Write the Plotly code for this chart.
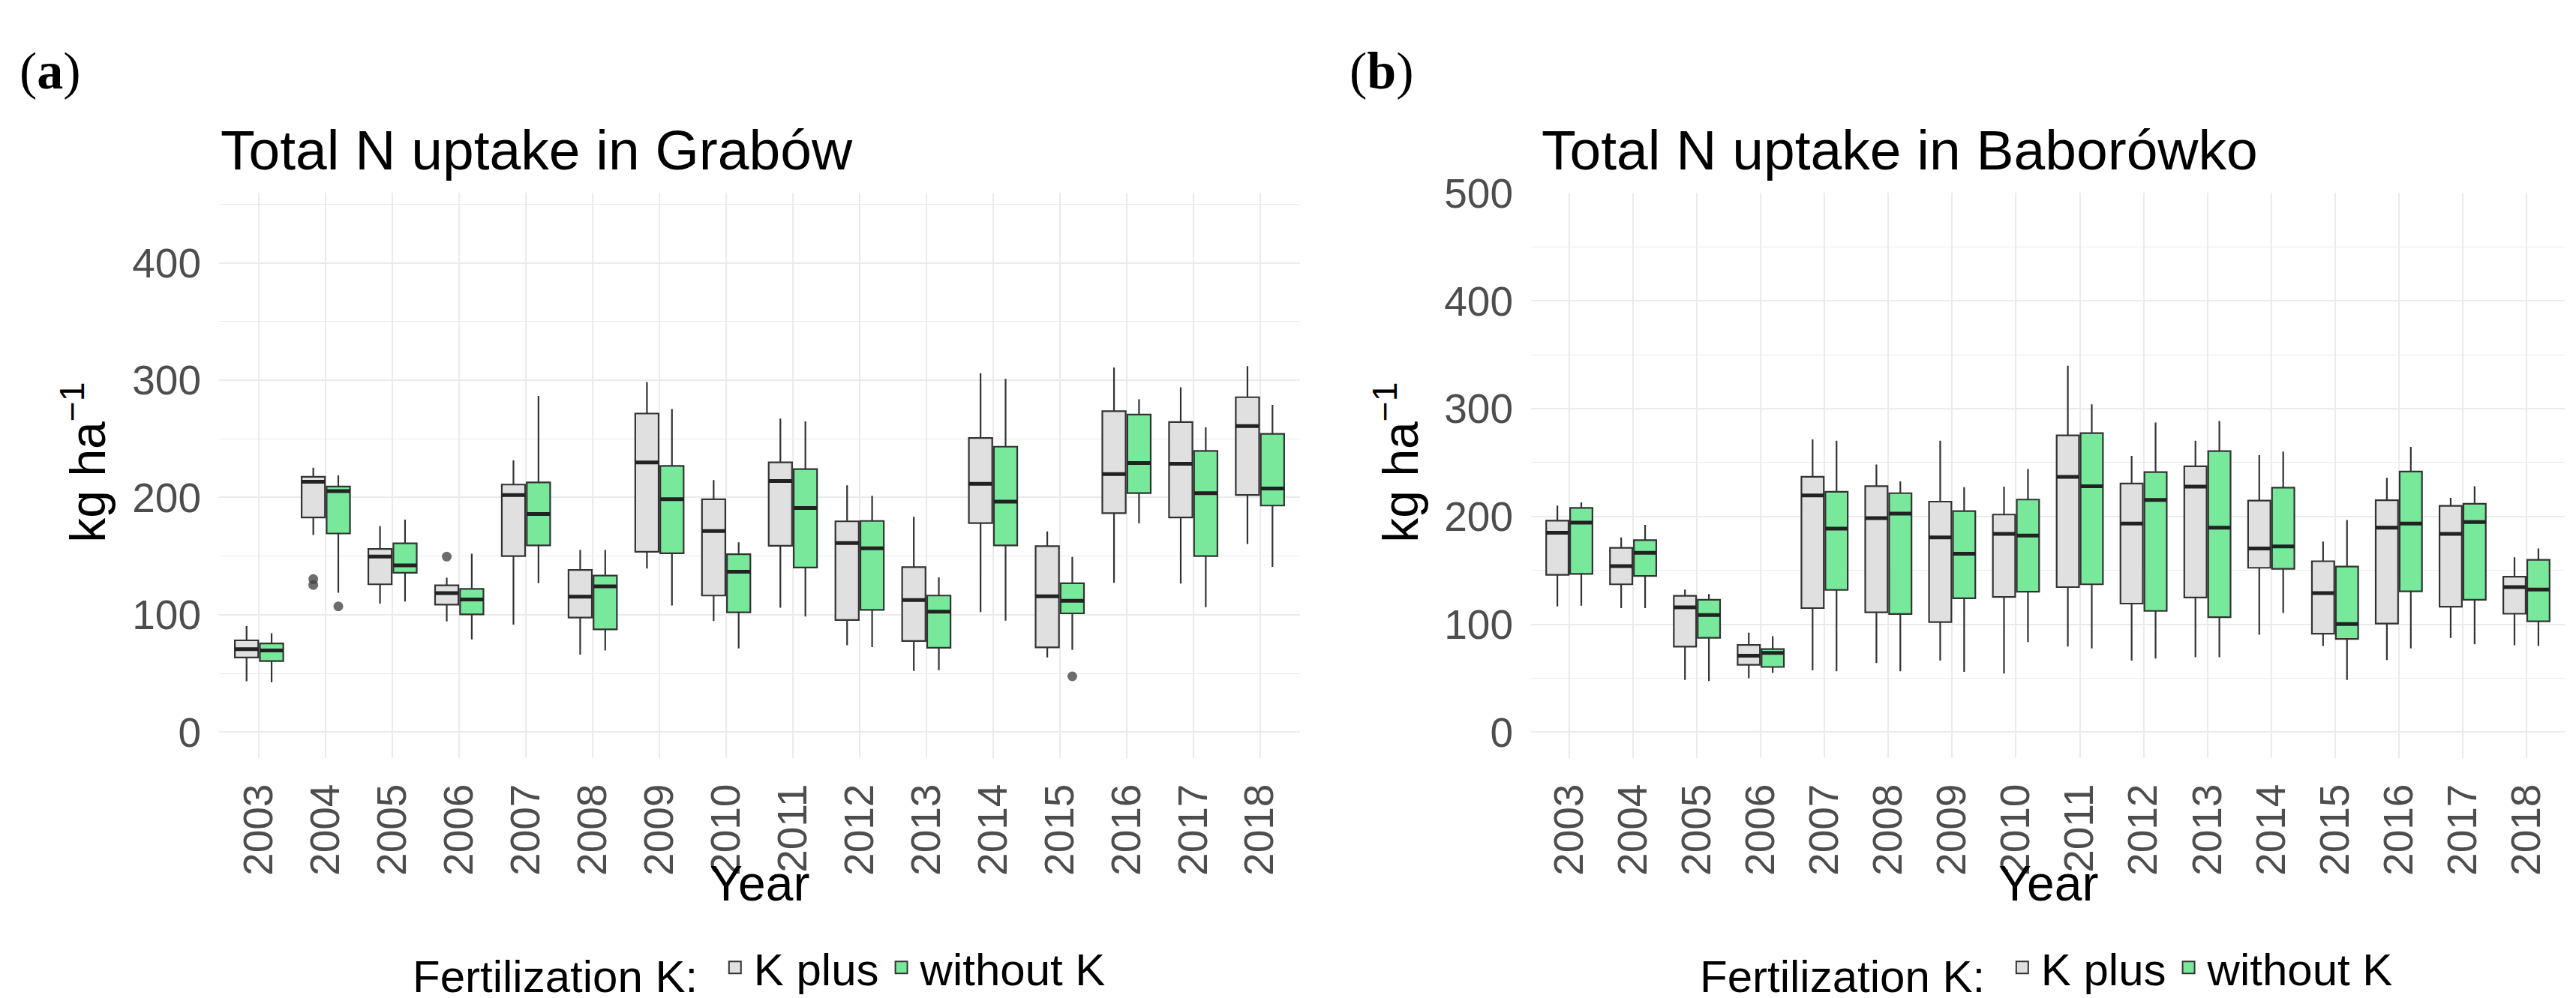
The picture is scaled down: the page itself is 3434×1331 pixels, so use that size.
import plotly.graph_objects as go

W, H = 3434, 1331

years = [str(y) for y in range(2003, 2019)]

# ---- Grabów (panel a) : [lower whisker, q1, median, q3, upper whisker]
grab_kplus_low = [43.3, 168, 109.6, 94.3, 91.6, 66, 139.4, 94.6, 106, 74, 52.2, 102.4, 63.6, 127.2, 126.7, 160.3]
grab_kplus_q1 = [63.6, 183, 126, 108.7, 150.1, 97.6, 153.7, 116.4, 158.8, 95.5, 77.6, 178.2, 72.2, 186.7, 183, 202.2]
grab_kplus_med = [70.7, 213.4, 149.6, 118.5, 202, 115.5, 229.9, 171.3, 214, 161.2, 112.5, 211.6, 115.8, 220, 228.8, 260.9]
grab_kplus_q3 = [78.2, 217.6, 156.1, 125.1, 211, 138.2, 271.6, 198.5, 229.9, 179.7, 140.6, 250.7, 158.5, 273.6, 264.3, 285.5]
grab_kplus_high = [90.4, 225.4, 175.5, 131.6, 231.6, 155.2, 298.5, 214.9, 267.2, 210.4, 183.6, 306, 171, 310.8, 294, 312.1]

grab_wok_low = [42.4, 118.8, 111.3, 79, 126.9, 69.6, 108, 71.3, 98.5, 72.5, 52.8, 95, 70.1, 177.9, 106.5, 140.9]
grab_wok_q1 = [60.6, 169.3, 135.8, 100.3, 159.1, 87.5, 152.5, 102.1, 140.3, 104.2, 71.9, 159.1, 101.2, 203.7, 150, 193.1]
grab_wok_med = [69.6, 205.4, 142.1, 113.1, 186, 124.2, 198.5, 136.7, 191, 156.7, 102.7, 196.4, 111.9, 229.4, 203.7, 207.6]
grab_wok_q3 = [75.5, 209.3, 160.9, 122.1, 212.8, 133.4, 226.9, 151.6, 224.2, 180, 116.4, 243.3, 126.9, 270.7, 239.7, 254.2]
grab_wok_high = [84.2, 218.8, 181.2, 152, 286.6, 155.2, 275.5, 161.8, 264.8, 201.5, 131.9, 301.2, 149.3, 283.7, 259.9, 279]

# outliers (year, value)
grab_kplus_out_year = ["2004", "2004", "2006"]
grab_kplus_out_val = [130.4, 125.4, 149.6]
grab_wok_out_year = ["2004", "2015"]
grab_wok_out_val = [107.2, 47.5]

# ---- Baborówko (panel b)
bab_kplus_low = [116.6, 115, 48.4, 50, 57.2, 64, 66.3, 54.3, 79.3, 66.3, 69.5, 90.3, 79.9, 66.9, 87.4, 80.6]
bab_kplus_q1 = [145.9, 137.1, 79.3, 62.4, 115, 111.1, 102, 125.4, 134.5, 119.2, 124.8, 152.4, 91.3, 100.7, 116.3, 109.8]
bab_kplus_med = [184.9, 154, 115.7, 70.9, 219.6, 198.5, 180.6, 183.9, 236.8, 193.5, 227.7, 170.3, 128.9, 189.7, 183.9, 134.5]
bab_kplus_q3 = [196.2, 170.9, 126.4, 80.9, 236.8, 228.1, 213.8, 201.8, 275.2, 230.5, 246.6, 214.8, 158.5, 215.1, 209.9, 144.2]
bab_kplus_high = [210.2, 180.6, 132.2, 92.3, 271.6, 248.2, 270.3, 227.7, 339.8, 256.3, 270.3, 257, 176.7, 235.9, 217.3, 162.1]

bab_wok_low = [117.3, 115, 47.4, 54.9, 56.5, 56.5, 55.9, 83.5, 77.6, 68.2, 69.5, 110.5, 48.4, 77.6, 81.5, 79.9]
bab_wok_q1 = [146.8, 144.9, 87.4, 60.4, 131.9, 109.5, 124.1, 130.3, 137.1, 112.4, 106.6, 151.5, 86.4, 130.6, 122.8, 102.7]
bab_wok_med = [194.3, 166.3, 108.5, 73.4, 188.8, 202.7, 165.4, 182.3, 228.1, 215.3, 189.7, 172.3, 100.3, 193.5, 194.9, 132.2]
bab_wok_q3 = [207.9, 178, 122.8, 77, 222.9, 221.6, 205, 215.7, 277.4, 241.2, 260.6, 226.8, 153.6, 241.7, 211.8, 159.8]
bab_wok_high = [213.1, 192.3, 128, 89, 270.3, 232.6, 227.1, 244, 304, 287.2, 288.5, 260.2, 196.8, 264.5, 228.1, 170.3]

group_names = ["K plus", "without K"]
fill_colors = ["#E0E0E0", "#78E89A"]
titles = ["Total N uptake in Grabów", "Total N uptake in Baborówko"]

# ---- layout constants (pixels in the 3434x1331 page)
FONT = "Liberation Sans"
DODGE = 0.1875
BOXW = 0.35
px_x = lambda p: p / W
px_y = lambda p: (H - p) / H

panels = [
    dict(xa="x", ya="y", legend="legend",
         stats=[(grab_kplus_low, grab_kplus_q1, grab_kplus_med, grab_kplus_q3, grab_kplus_high),
                (grab_wok_low, grab_wok_q1, grab_wok_med, grab_wok_q3, grab_wok_high)],
         outliers=[(grab_kplus_out_year, grab_kplus_out_val), (grab_wok_out_year, grab_wok_out_val)]),
    dict(xa="x2", ya="y2", legend="legend2",
         stats=[(bab_kplus_low, bab_kplus_q1, bab_kplus_med, bab_kplus_q3, bab_kplus_high),
                (bab_wok_low, bab_wok_q1, bab_wok_med, bab_wok_q3, bab_wok_high)],
         outliers=[([], []), ([], [])]),
]

fig = go.Figure()
for p in panels:
    for g, (low, q1, med, q3, high) in enumerate(p["stats"]):
        off = -DODGE if g == 0 else DODGE
        xs = [i + off for i in range(len(years))]
        fig.add_trace(go.Box(
            x=xs, q1=q1, median=med, q3=q3, lowerfence=low, upperfence=high,
            width=BOXW, whiskerwidth=0, boxpoints=False,
            fillcolor=fill_colors[g], line=dict(color="#333333", width=2.2),
            name=group_names[g], showlegend=False,
            xaxis=p["xa"], yaxis=p["ya"], hoverinfo="skip"))
        # thicker median line (degenerate box at the median)
        fig.add_trace(go.Box(
            x=xs, q1=med, median=med, q3=med, lowerfence=med, upperfence=med,
            width=BOXW, whiskerwidth=0, boxpoints=False,
            fillcolor="rgba(0,0,0,0)", line=dict(color="#222222", width=5),
            showlegend=False, xaxis=p["xa"], yaxis=p["ya"], hoverinfo="skip"))
        oy, ov = p["outliers"][g]
        if oy:
            fig.add_trace(go.Scatter(
                x=[years.index(y) + off for y in oy], y=ov, mode="markers",
                marker=dict(size=13, color="rgba(60,60,60,0.75)"),
                showlegend=False, xaxis=p["xa"], yaxis=p["ya"], hoverinfo="skip"))
        # legend entry (legend-only key)
        fig.add_trace(go.Scatter(
            x=[None], y=[None], mode="markers", name=group_names[g], legend=p["legend"],
            marker=dict(symbol="square", size=16, color=fill_colors[g],
                        line=dict(color="#333333", width=2)),
            xaxis=p["xa"], yaxis=p["ya"], hoverinfo="skip"))

grid = "#EBEBEB"
xcommon = dict(range=[-0.6, 15.6], tickmode="array", tickvals=list(range(len(years))),
               ticktext=years, tickangle=-90, showgrid=True, gridcolor=grid, gridwidth=2.2,
               zeroline=False, showline=False, ticks="outside", ticklen=12,
               tickcolor="rgba(0,0,0,0)", tickfont=dict(family=FONT, size=55, color="#4D4D4D"))
ycommon = dict(tickmode="linear", tick0=0, dtick=100, showgrid=True, gridcolor=grid, gridwidth=2.2,
               zeroline=False, showline=False, ticks="outside", ticklen=12,
               tickcolor="rgba(0,0,0,0)", tickfont=dict(family=FONT, size=55, color="#4D4D4D"),
               minor=dict(tick0=0, dtick=50, showgrid=True, gridcolor=grid, gridwidth=1.2, ticks=""),
               domain=[px_y(995), px_y(224)])

fig.update_layout(
    width=W, height=H, margin=dict(l=0, r=0, t=0, b=0),
    paper_bgcolor="white", plot_bgcolor="white",
    font=dict(family=FONT, color="black"),
    xaxis={**xcommon, "domain": [px_x(284), px_x(1725)], "anchor": "y"},
    yaxis={**ycommon, "range": [-21.9, 459.9], "anchor": "x"},
    xaxis2={**xcommon, "domain": [px_x(2033), px_x(3411)], "anchor": "y2"},
    yaxis2={**ycommon, "range": [-23.8, 500.4], "anchor": "x2"},
    showlegend=True,
)

leg = dict(orientation="h", xanchor="center", yanchor="middle", y=px_y(1281),
           font=dict(family=FONT, size=60, color="black"),
           title=dict(text="Fertilization K: ", side="left", font=dict(family=FONT, size=60, color="black")),
           bgcolor="rgba(0,0,0,0)", itemwidth=40, itemsizing="trace", tracegroupgap=0)
fig.update_layout(legend={**leg, "x": px_x(1006)}, legend2={**leg, "x": px_x(2722)})

ann = []
ann.append(dict(text="(<b>a</b>)", x=px_x(16), y=px_y(58), xanchor="left", yanchor="middle",
                font=dict(family="Liberation Serif", size=70, color="black")))
ann.append(dict(text="(<b>b</b>)", x=px_x(1789), y=px_y(58), xanchor="left", yanchor="middle",
                font=dict(family="Liberation Serif", size=70, color="black")))
for t, xl in zip(titles, [284, 2045]):
    ann.append(dict(text=t, x=px_x(xl), y=px_y(166), xanchor="left", yanchor="middle",
                    font=dict(family=FONT, size=75, color="black")))
for xc in [104, 1854]:
    ann.append(dict(text="kg ha<sup>−1</sup>", x=px_x(xc), y=px_y(592), xanchor="center",
                    yanchor="middle", textangle=-90, font=dict(family=FONT, size=66, color="black")))
for xc in [1004, 2722]:
    ann.append(dict(text="Year", x=px_x(xc), y=px_y(1166), xanchor="center", yanchor="middle",
                    font=dict(family=FONT, size=66, color="black")))
for a in ann:
    a.update(xref="paper", yref="paper", showarrow=False)
fig.update_layout(annotations=ann)

fig.write_html("out.html")
